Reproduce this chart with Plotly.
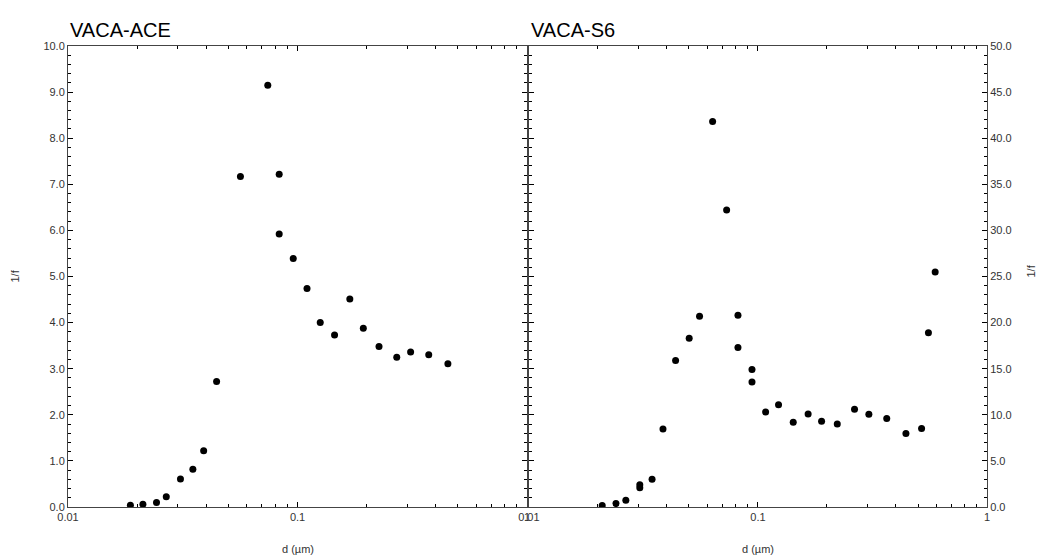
import plotly.graph_objects as go

# VACA-ACE panel
ace_d = [0.0187, 0.0212, 0.0243, 0.0268, 0.0309, 0.0350, 0.0390, 0.0444,
         0.0564, 0.0742, 0.0832, 0.0832, 0.0958, 0.110, 0.1256, 0.145,
         0.169, 0.1935, 0.2265, 0.2706, 0.311, 0.373, 0.452]
ace_f = [0.04, 0.06, 0.10, 0.22, 0.61, 0.82, 1.22, 2.72,
         7.17, 9.15, 7.22, 5.92, 5.39, 4.74, 4.00, 3.73,
         4.51, 3.88, 3.48, 3.25, 3.36, 3.30, 3.11]

# VACA-S6 panel
s6_d = [0.0209, 0.0240, 0.0265, 0.0305, 0.0305, 0.0345, 0.0385, 0.0437,
        0.0501, 0.0556, 0.0634, 0.0730, 0.0818, 0.0818, 0.0942, 0.0942,
        0.108, 0.123, 0.1426, 0.1656, 0.1896, 0.222, 0.264, 0.305,
        0.365, 0.4426, 0.518, 0.555, 0.594]
s6_f = [0.15, 0.37, 0.73, 2.4, 2.1, 3.0, 8.45, 15.9,
        18.3, 20.7, 41.8, 32.2, 20.8, 17.3, 14.9, 13.55,
        10.3, 11.1, 9.2, 10.1, 9.3, 9.0, 10.6, 10.05,
        9.6, 7.98, 8.52, 18.9, 25.5]

titles = ["VACA-ACE", "VACA-S6"]
x_title = "d (µm)"
y_title = "1/f"
x_ticks = [0.01, 0.1, 1]
x_ticklabels = ["0.01", "0.1", "1"]
x_minor_ticks = [0.02, 0.03, 0.04, 0.05, 0.06, 0.07, 0.08, 0.09,
                 0.2, 0.3, 0.4, 0.5, 0.6, 0.7, 0.8, 0.9]

FONT = "Liberation Sans, Arial, sans-serif"
TICKCOL = "#333333"
LINECOL = "#444444"

fig = go.Figure()
fig.add_trace(go.Scatter(x=ace_d, y=ace_f, mode="markers",
                         marker=dict(color="black", size=7),
                         xaxis="x", yaxis="y", showlegend=False))
fig.add_trace(go.Scatter(x=s6_d, y=s6_f, mode="markers",
                         marker=dict(color="black", size=7),
                         xaxis="x2", yaxis="y2", showlegend=False))

def axstyle(ln):
    return dict(ticks="inside", ticklen=ln, tickcolor="black",
                showline=True, linecolor=LINECOL, mirror="allticks",
                showgrid=False, zeroline=False,
                tickfont=dict(family=FONT, size=11, color=TICKCOL))

def xaxis(dom, anchor):
    return dict(domain=dom, anchor=anchor, type="log", range=[-2, 0],
                tickvals=x_ticks, ticktext=x_ticklabels,
                minor=dict(ticks="inside", ticklen=3, tickcolor="black",
                           tickvals=x_minor_ticks),
                **axstyle(5))

fig.update_layout(
    width=1046, height=558,
    margin=dict(l=68, r=59, t=46, b=51),
    plot_bgcolor="white", paper_bgcolor="white",
    font=dict(family=FONT, color=TICKCOL),
    xaxis=xaxis([0, 0.4995], "y"),
    xaxis2=xaxis([0.5015, 1], "y2"),
    yaxis=dict(domain=[0, 1], anchor="x", range=[0, 10], dtick=1, tickformat=".1f",
               minor=dict(ticks="inside", ticklen=3, tickcolor="black", dtick=0.2),
               **axstyle(5)),
    yaxis2=dict(domain=[0, 1], anchor="x2", side="right", range=[0, 50], dtick=5,
                tickformat=".1f",
                minor=dict(ticks="inside", ticklen=3, tickcolor="black", dtick=1),
                **axstyle(5)),
)

annos = [
    dict(text=titles[0], xref="x domain", yref="paper", x=0, y=1.0, yshift=3,
         xanchor="left", yanchor="bottom", showarrow=False,
         font=dict(family=FONT, size=20, color="black")),
    dict(text=titles[1], xref="x2 domain", yref="paper", x=0, y=1.0, yshift=3,
         xanchor="left", yanchor="bottom", showarrow=False,
         font=dict(family=FONT, size=20, color="black")),
    dict(text=x_title, xref="x domain", yref="paper", x=0.5, y=0, yshift=-42,
         xanchor="center", yanchor="middle", showarrow=False,
         font=dict(family=FONT, size=11, color=TICKCOL)),
    dict(text=x_title, xref="x2 domain", yref="paper", x=0.5, y=0, yshift=-42,
         xanchor="center", yanchor="middle", showarrow=False,
         font=dict(family=FONT, size=11, color=TICKCOL)),
    dict(text=y_title, xref="paper", yref="paper", x=0, xshift=-54, y=0.5,
         xanchor="center", yanchor="middle", textangle=-90, showarrow=False,
         font=dict(family=FONT, size=11, color=TICKCOL)),
    dict(text=y_title, xref="paper", yref="paper", x=1, xshift=43, y=0.5, yshift=5,
         xanchor="center", yanchor="middle", textangle=-90, showarrow=False,
         font=dict(family=FONT, size=11, color=TICKCOL)),
]
fig.update_layout(annotations=annos)

fig.write_html("out.html")
